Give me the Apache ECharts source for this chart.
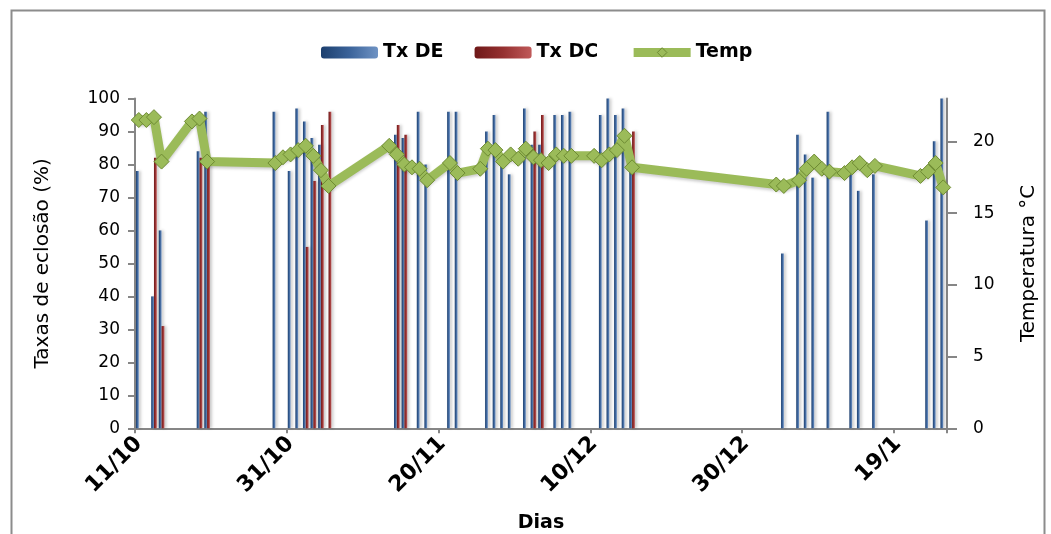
<!DOCTYPE html>
<html><head><meta charset="utf-8">
<script src="https://cdn.jsdelivr.net/npm/echarts@6/dist/echarts.min.js"></script>
<style>html,body{margin:0;padding:0;background:#fff}#c{width:1051px;height:534px}</style>
</head><body><div id="c"></div>
<script>
// ---- data ----
const startDay = [2000, 9, 11];        // 11/10
const dayCount = 107;                  // 11/10 .. 25/1
const tickLabels = ['11/10', '31/10', '20/11', '10/12', '30/12', '19/1'];

const deDates = ['11/10','13/10','14/10','19/10','20/10','29/10','31/10','1/11','2/11','3/11','4/11',
  '14/11','15/11','17/11','18/11','21/11','22/11','26/11','27/11','28/11','29/11',
  '1/12','2/12','3/12','5/12','6/12','7/12','11/12','12/12','13/12','14/12','15/12',
  '4/1','6/1','7/1','8/1','10/1','13/1','14/1','16/1','23/1','24/1','25/1'];
const deValues = [78,40,60,84,96,96,78,97,93,88,86,
  89,88,96,80,96,96,90,95,81,77,
  97,86,86,95,95,96,95,100,95,97,81,
  53,89,83,76,96,77,72,77,63,87,100];

const dcDates = ['13/10','14/10','19/10','20/10','2/11','3/11','4/11','5/11','14/11','15/11','2/12','3/12','15/12'];
const dcValues = [82,31,82,82,55,75,92,96,92,89,90,95,90];

const tempDates = ['11/10','12/10','13/10','14/10','18/10','19/10','20/10',
  '29/10','30/10','31/10','1/11','2/11','3/11','4/11','5/11',
  '13/11','14/11','15/11','16/11','17/11','18/11','21/11','22/11',
  '25/11','26/11','27/11','28/11','29/11','30/11','1/12','2/12','3/12','4/12','5/12','6/12','7/12',
  '10/12','11/12','12/12','13/12','14/12','15/12',
  '3/1','4/1','6/1','7/1','8/1','9/1','10/1','12/1','13/1','14/1','15/1','16/1',
  '22/1','23/1','24/1','25/1'];
const tempValues = [21.5,21.5,21.7,18.6,21.4,21.6,18.6,
  18.5,18.9,19.1,19.4,19.7,19.0,18.0,16.9,
  19.7,19.1,18.4,18.2,18.1,17.3,18.5,17.8,
  18.1,19.5,19.4,18.6,19.1,18.8,19.5,18.9,18.7,18.5,19.1,19.0,19.0,
  19.0,18.7,19.1,19.4,20.4,18.2,
  17.0,16.9,17.3,18.1,18.6,18.1,17.9,17.8,18.2,18.5,18.0,18.3,
  17.6,17.9,18.5,16.8];

// ---- build category axis (one slot per day) ----
const categories = [];
for (let i = 0; i < dayCount; i++) {
  const d = new Date(startDay[0], startDay[1], startDay[2] + i);
  categories.push(d.getDate() + '/' + (d.getMonth() + 1));
}
function place(dates, values) {
  const arr = categories.map(() => null);
  dates.forEach((d, k) => { arr[categories.indexOf(d)] = values[k]; });
  return arr;
}
const deSeries = place(deDates, deValues);
const dcSeries = place(dcDates, dcValues);
const tempSeries = place(tempDates, tempValues);
const showTick = (idx, v) => tickLabels.indexOf(categories[idx]) >= 0;

const axisGrey = '#868686';
const chart = echarts.init(document.getElementById('c'), null, {renderer: 'canvas'});
chart.setOption({
  animation: false,
  backgroundColor: '#ffffff',
  graphic: [{
    type: 'rect', left: 9, top: 8, silent: true,
    shape: {width: 1033, height: 540},
    style: {fill: 'none', stroke: '#8c8c8c', lineWidth: 2}
  }],
  legend: {
    left: 316, top: 38,
    itemWidth: 57, itemHeight: 12, itemGap: 31,
    textStyle: {fontFamily: 'DejaVu Sans', fontSize: 19, fontWeight: 'bold', color: '#000'},
    data: [
      {name: 'Tx DE', icon: 'roundRect'},
      {name: 'Tx DC', icon: 'roundRect'},
      {name: 'Temp', lineStyle: {width: 9}, itemStyle: {borderWidth: 1}}
    ]
  },
  grid: {left: 135, right: 104, top: 98.5, bottom: 105.7, containLabel: false, outerBoundsMode: 'none'},
  xAxis: {
    type: 'category',
    data: categories,
    boundaryGap: true,
    name: 'Dias', nameLocation: 'middle', nameGap: 85,
    nameTextStyle: {fontFamily: 'DejaVu Sans', fontSize: 19, fontWeight: 'bold', color: '#000'},
    axisLine: {lineStyle: {color: axisGrey, width: 2}},
    axisTick: {show: true, interval: showTick, length: 5, lineStyle: {color: axisGrey, width: 2}},
    axisLabel: {interval: showTick, rotate: 45, margin: 12,
      fontFamily: 'DejaVu Sans', fontSize: 22, fontWeight: 'bold', color: '#000'},
    splitLine: {show: false}
  },
  yAxis: [{
    type: 'value', min: 0, max: 100, interval: 10,
    name: 'Taxas de eclosão (%)', nameLocation: 'middle', nameGap: 82, nameRotate: 90,
    nameTextStyle: {fontFamily: 'DejaVu Sans', fontSize: 20, color: '#000'},
    axisLine: {show: true, lineStyle: {color: axisGrey, width: 2}},
    axisTick: {show: true, length: 7, lineStyle: {color: axisGrey, width: 2}},
    axisLabel: {fontFamily: 'DejaVu Sans', fontSize: 17, color: '#000', margin: 15},
    splitLine: {show: false}
  }, {
    type: 'value', min: 0, max: 23, interval: 5, position: 'right',
    name: 'Temperatura °C', nameLocation: 'middle', nameGap: 72, nameRotate: 90,
    nameTextStyle: {fontFamily: 'DejaVu Sans', fontSize: 20, color: '#000'},
    axisLine: {show: true, lineStyle: {color: axisGrey, width: 2}},
    axisTick: {show: true, length: 10, lineStyle: {color: axisGrey, width: 2}},
    axisLabel: {fontFamily: 'DejaVu Sans', fontSize: 17, color: '#000', margin: 26, showMaxLabel: false},
    splitLine: {show: false}
  }],
  series: [{
    name: 'Tx DE', type: 'bar', data: deSeries, barWidth: 2.8, barGap: '0%',
    itemStyle: {
      color: new echarts.graphic.LinearGradient(0, 0, 1, 0, [
        {offset: 0, color: '#1c3f6e'}, {offset: 0.5, color: '#3b639a'}, {offset: 1, color: '#6f93c4'}]),
      shadowColor: 'rgba(0,0,0,0.22)', shadowBlur: 3, shadowOffsetX: 2
    }
  }, {
    name: 'Tx DC', type: 'bar', data: dcSeries, barWidth: 2.8, barGap: '0%',
    itemStyle: {
      color: new echarts.graphic.LinearGradient(0, 0, 1, 0, [
        {offset: 0, color: '#6e1818'}, {offset: 0.5, color: '#953030'}, {offset: 1, color: '#c05a5a'}]),
      shadowColor: 'rgba(0,0,0,0.22)', shadowBlur: 3, shadowOffsetX: 2
    }
  }, {
    name: 'Temp', type: 'line', yAxisIndex: 1, data: tempSeries, connectNulls: true,
    symbol: 'diamond', symbolSize: 15, showAllSymbol: true, z: 5,
    lineStyle: {width: 9, color: '#9BBB59', shadowColor: 'rgba(0,0,0,0.2)', shadowBlur: 3, shadowOffsetY: 2},
    itemStyle: {color: '#9BBB59', borderColor: '#6e8b33', borderWidth: 1}
  }]
});
</script></body></html>
